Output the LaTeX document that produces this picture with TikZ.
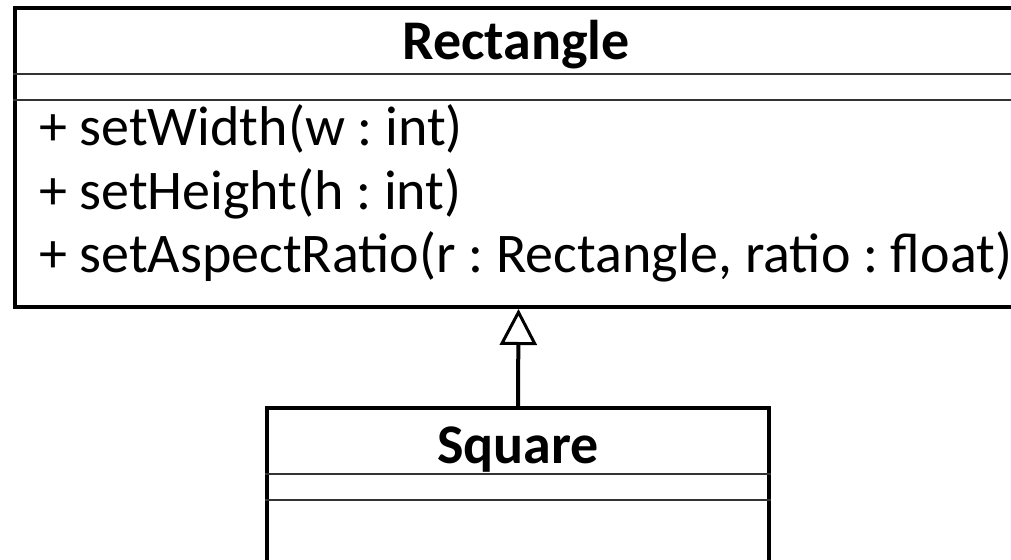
\documentclass[tikz,border=0pt]{standalone}
\usepackage{fontspec}
\setmainfont{Carlito}
\usetikzlibrary{arrows.meta,positioning,calc}
\frenchspacing

\begin{document}
\begin{tikzpicture}[x=1pt, y=-1pt, line width=4pt, >={Triangle[fill=white,length=36pt,width=37pt,line width=3pt]}]
\tikzstyle{classbox}=[draw=black, line width=4pt, inner sep=0pt]
\tikzstyle{divider}=[draw=black!80, line width=1.5pt]
\tikzstyle{classname}=[font=\fontsize{56}{62}\selectfont\bfseries, inner sep=0pt, anchor=base]
\tikzstyle{member}=[font=\fontsize{56}{62}\selectfont, inner sep=0pt, anchor=base west]
\useasboundingbox (0,0) rectangle (1011,559);
% class boxes
\node[classbox, minimum width=1007pt, minimum height=299pt] (rect) at (518.5,157.5) {};
\node[classbox, minimum width=502pt, minimum height=232pt] (square) at (518,524) {};
% compartments
\draw[divider] (rect.west |- 0,74) -- (rect.east |- 0,74);
\draw[divider] (rect.west |- 0,100) -- (rect.east |- 0,100);
\draw[divider] (square.west |- 0,474) -- (square.east |- 0,474);
\draw[divider] (square.west |- 0,500) -- (square.east |- 0,500);
% texts
\node[classname] (rectname) at (516,60) {Rectangle};
\node[member] (setw) at (37,146) {+ setWidth(w : int)};
\node[member] (seth) at (37,209) {+ setHeight(h : int)};
\node[member] (setar) at (37,272) {+ setAspectRatio(r : Rectangle, ratio : float)};
\node[classname] (sqname) at (518,463) {Square};
% generalization
\draw[->] (square.north) -- (rect.south);
\end{tikzpicture}
\end{document}
